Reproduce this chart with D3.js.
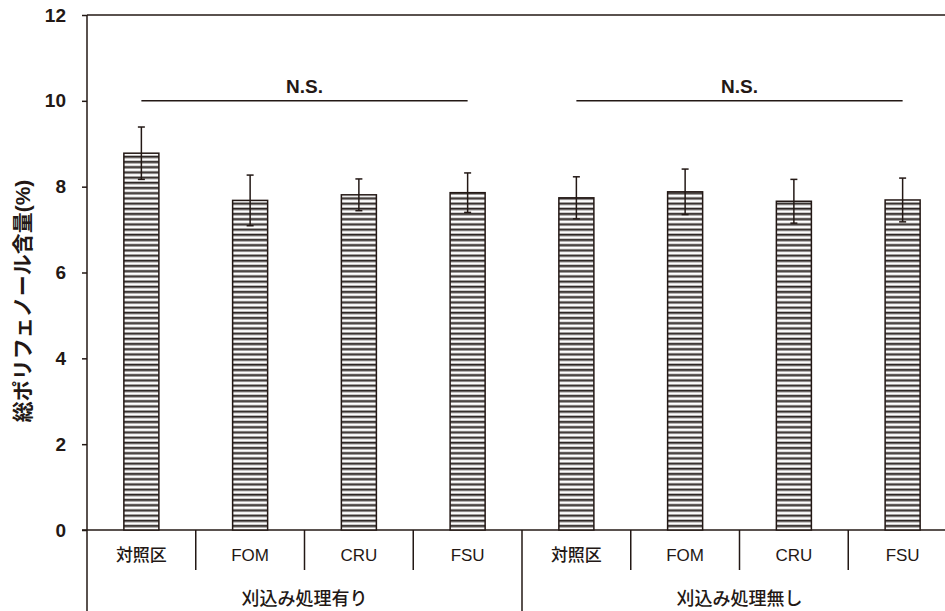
<!DOCTYPE html>
<html>
<head>
<meta charset="utf-8">
<script src="https://cdn.jsdelivr.net/npm/d3@7"></script>
<style>
  body { margin: 0; background: #fff; }
  text { font-family: "Liberation Sans", Arial, "Noto Sans CJK JP", sans-serif; fill: #231815; }
</style>
</head>
<body>
<script>
// chart data
var categories = ['対照区', 'FOM', 'CRU', 'FSU', '対照区', 'FOM', 'CRU', 'FSU'];
var groups = ['刈込み処理有り', '刈込み処理無し'];
var means = [8.78, 7.68, 7.81, 7.86, 7.74, 7.88, 7.66, 7.69];
var errs = [0.61, 0.59, 0.37, 0.46, 0.49, 0.53, 0.51, 0.51];
var yTicks = [0, 2, 4, 6, 8, 10, 12];
var sigLabels = ['N.S.', 'N.S.'];
var sigLevel = 10;

var width = 945;
var height = 611;
var ink = '#231815';
var plotL = 87, plotR = 957, plotT = 15, plotB = 530;

var svg = d3.select('body').append('svg')
  .attr('width', width)
  .attr('height', height);

// stripe pattern for the bars
var pat = svg.append('defs').append('pattern')
  .attr('id', 'stripes')
  .attr('patternUnits', 'userSpaceOnUse')
  .attr('width', 10)
  .attr('height', 5.2);
pat.append('rect').attr('width', 10).attr('height', 5.2).attr('fill', '#fff');
pat.append('rect').attr('y', 0).attr('width', 10).attr('height', 1.6).attr('fill', '#2b2522');
pat.append('rect').attr('y', 1.6).attr('width', 10).attr('height', 0.9).attr('fill', '#9a9696');
pat.append('rect').attr('y', 4.3).attr('width', 10).attr('height', 0.9).attr('fill', '#b8b5b5');

var x = d3.scaleBand()
  .domain(d3.range(categories.length))
  .range([plotL, plotR])
  .paddingInner(0.678)
  .paddingOuter(0.339);

var y = d3.scaleLinear()
  .domain([0, 12])
  .range([plotB, plotT]);

// y axis
var yAxis = svg.append('g')
  .attr('transform', 'translate(' + plotL + ',0)')
  .call(d3.axisLeft(y).tickValues(yTicks).tickSize(5).tickPadding(16).tickFormat(d3.format('d')));
yAxis.select('.domain').remove();
yAxis.selectAll('line').attr('stroke', ink).attr('stroke-width', 1.5);
yAxis.selectAll('text')
  .style('font-size', '19px')
  .style('font-weight', 'bold')
  .attr('fill', ink);

// frame lines
svg.append('line').attr('x1', plotL).attr('x2', plotL).attr('y1', plotT).attr('y2', height)
  .attr('stroke', ink).attr('stroke-width', 1.5);
svg.append('line').attr('x1', plotL).attr('x2', plotR).attr('y1', plotT).attr('y2', plotT)
  .attr('stroke', ink).attr('stroke-width', 1.5);
svg.append('line').attr('x1', plotL - 5).attr('x2', plotR).attr('y1', plotB).attr('y2', plotB)
  .attr('stroke', ink).attr('stroke-width', 1.5);

// bars
svg.selectAll('rect.bar').data(means)
  .enter()
  .append('rect')
  .attr('class', 'bar')
  .attr('x', function(d, i){ return x(i); })
  .attr('y', function(d){ return y(d); })
  .attr('width', x.bandwidth())
  .attr('height', function(d){ return plotB - y(d); })
  .attr('fill', 'url(#stripes)')
  .attr('stroke', ink)
  .attr('stroke-width', 1.5);

// error bars
var eb = svg.selectAll('g.err').data(means)
  .enter()
  .append('g')
  .attr('class', 'err');
eb.append('line')
  .attr('x1', function(d, i){ return x(i) + x.bandwidth() / 2; })
  .attr('x2', function(d, i){ return x(i) + x.bandwidth() / 2; })
  .attr('y1', function(d, i){ return y(d - errs[i]); })
  .attr('y2', function(d, i){ return y(d + errs[i]); })
  .attr('stroke', ink).attr('stroke-width', 1.5);
[-1, 1].forEach(function(s){
  eb.append('line')
    .attr('x1', function(d, i){ return x(i) + x.bandwidth() / 2 - 3.5; })
    .attr('x2', function(d, i){ return x(i) + x.bandwidth() / 2 + 3.5; })
    .attr('y1', function(d, i){ return y(d + s * errs[i]); })
    .attr('y2', function(d, i){ return y(d + s * errs[i]); })
    .attr('stroke', ink).attr('stroke-width', 1.5);
});

// significance lines
var nPer = categories.length / groups.length;
sigLabels.forEach(function(lab, g){
  var x1 = x(g * nPer) + x.bandwidth() / 2;
  var x2 = x(g * nPer + nPer - 1) + x.bandwidth() / 2;
  svg.append('line').attr('x1', x1).attr('x2', x2)
    .attr('y1', y(sigLevel)).attr('y2', y(sigLevel))
    .attr('stroke', ink).attr('stroke-width', 1.5);
  svg.append('text')
    .attr('x', (x1 + x2) / 2)
    .attr('y', y(sigLevel) - 8)
    .attr('text-anchor', 'middle')
    .style('font-size', '19px')
    .style('font-weight', 'bold')
    .text(lab);
});

// category separators and labels
var step = x.step();
categories.forEach(function(c, i){
  var sx = plotL + step * i;
  var isGroup = i % nPer === 0;
  if (i > 0) {
    svg.append('line').attr('x1', sx).attr('x2', sx)
      .attr('y1', plotB).attr('y2', isGroup ? height : 570)
      .attr('stroke', ink).attr('stroke-width', 1.5);
  }
  svg.append('text')
    .attr('x', x(i) + x.bandwidth() / 2)
    .attr('y', 561)
    .attr('text-anchor', 'middle')
    .style('font-size', '17px')
    .style('font-weight', 500)
    .text(c);
});

groups.forEach(function(g, k){
  var gx = plotL + step * nPer * (k + 0.5);
  svg.append('text')
    .attr('x', gx)
    .attr('y', 605)
    .attr('text-anchor', 'middle')
    .style('font-size', '18px')
    .style('font-weight', 500)
    .text(g);
});

// y axis title
svg.append('text')
  .attr('transform', 'translate(30,' + 301 + ') rotate(-90)')
  .attr('text-anchor', 'middle')
  .style('font-size', '21px')
  .style('font-weight', 'bold')
  .text('総ポリフェノール含量(%)');
</script>
</body>
</html>
